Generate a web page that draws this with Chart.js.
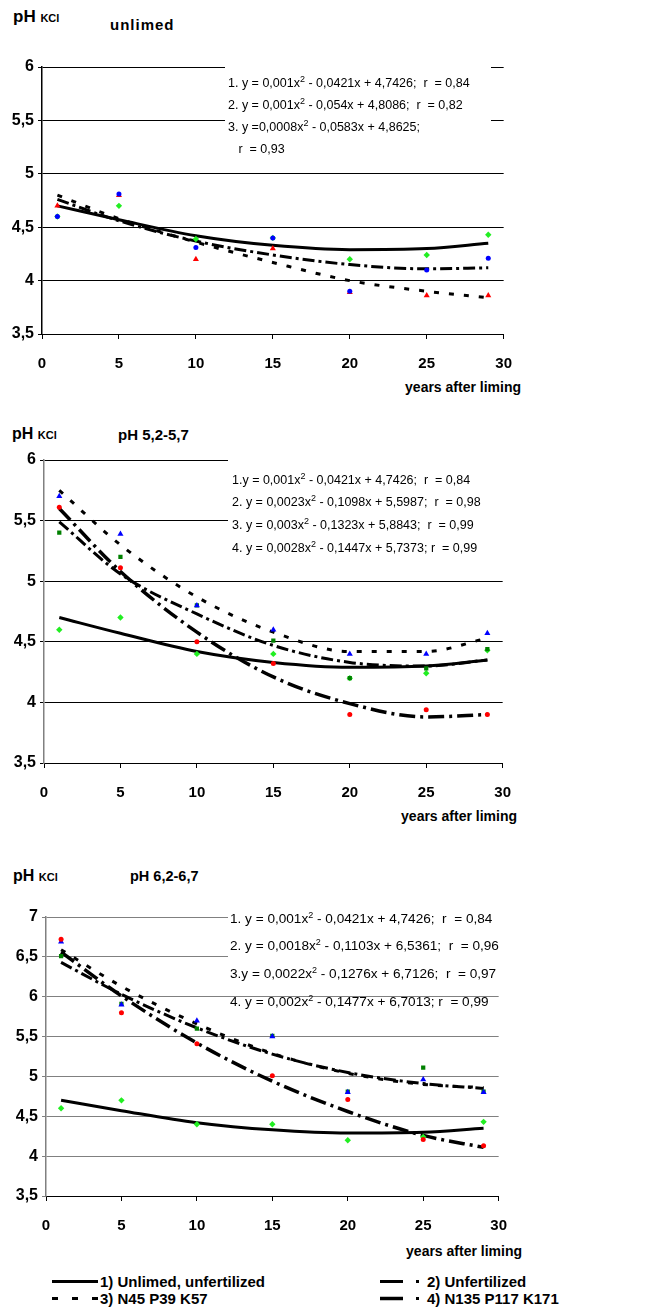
<!DOCTYPE html>
<html>
<head>
<meta charset="utf-8">
<script src="https://cdn.jsdelivr.net/npm/chart.js@4.4.1/dist/chart.umd.min.js"></script>
<style>
body { margin: 0; background: #fff; }
#page { position: relative; width: 653px; height: 1309px; overflow: hidden; font-family: "Liberation Sans", Arial, sans-serif; color: #000; }
canvas { position: absolute; left: 0; }
.t { position: absolute; font-weight: bold; white-space: nowrap; }
.eq { position: absolute; background: #fff; white-space: pre; }
.eq div { white-space: pre; }
.s2 { font-size: 9px; position: relative; top: -5px; }
.leg { position: absolute; font-weight: bold; font-size: 15px; line-height: 17px; white-space: nowrap; }
.leg svg { position: absolute; top: 0; }
</style>
</head>
<body>
<div id="page">
  <!-- panel 1 -->
  <div class="t" style="left:13px;top:7px;font-size:17px">pH <span style="font-size:11px">KCl</span></div>
  <div class="t" style="left:110px;top:16px;font-size:15px;letter-spacing:1px">unlimed</div>
  <canvas id="c1" width="528" height="322" style="top:52px"></canvas>
  <div class="eq" style="left:225px;top:52px;width:263px;height:86px;font-size:12.5px;line-height:21px;padding-left:3px">
<div>1. y = 0,001x<span class="s2">2</span> - 0,0421x + 4,7426;  r  = 0,84</div><div>2. y = 0,001x<span class="s2">2</span> - 0,054x + 4,8086;  r  = 0,82</div><div>3. y =0,0008x<span class="s2">2</span> - 0,0583x + 4,8625;</div><div>   r  = 0,93</div></div>
  <div class="t" style="right:132px;top:379px;font-size:14px">years after liming</div>

  <!-- panel 2 -->
  <div class="t" style="left:12px;top:425px;font-size:16px">pH <span style="font-size:11px">KCl</span></div>
  <div class="t" style="left:118px;top:426px;font-size:15px">pH 5,2-5,7</div>
  <canvas id="c2" width="527" height="358" style="top:445px"></canvas>
  <div class="eq" style="left:228px;top:448px;width:300px;height:87px;font-size:12.5px;line-height:21.7px;padding-left:4px">
<div>1.y = 0,001x<span class="s2">2</span> - 0,0421x + 4,7426;  r  = 0,84</div><div>2. y = 0,0023x<span class="s2">2</span> - 0,1098x + 5,5987;  r  = 0,98</div><div>3. y = 0,003x<span class="s2">2</span> - 0,1323x + 5,8843;  r  = 0,99</div><div>4. y = 0,0028x<span class="s2">2</span> - 0,1447x + 5,7373; r  = 0,99</div></div>
  <div class="t" style="right:136px;top:808px;font-size:14px">years after liming</div>

  <!-- panel 3 -->
  <div class="t" style="left:13px;top:867px;font-size:16px">pH <span style="font-size:11px">KCl</span></div>
  <div class="t" style="left:130px;top:868px;font-size:14.5px">pH 6,2-6,7</div>
  <canvas id="c3" width="523" height="334" style="top:902px"></canvas>
  <div class="eq" style="left:228px;top:880px;width:300px;height:104px;font-size:13.6px;line-height:25.7px;padding-left:2px">
<div>1. y = 0,001x<span class="s2">2</span> - 0,0421x + 4,7426;  r  = 0,84</div><div>2. y = 0,0018x<span class="s2">2</span> - 0,1103x + 6,5361;  r  = 0,96</div><div>3.y = 0,0022x<span class="s2">2</span> - 0,1276x + 6,7126;  r  = 0,97</div><div>4. y = 0,002x<span class="s2">2</span> - 0,1477x + 6,7013; r  = 0,99</div></div>
  <div class="t" style="right:131px;top:1243px;font-size:14px">years after liming</div>

  <!-- legend -->
  <div class="leg" style="left:52px;top:1273px;padding-left:48px">
    <svg width="48" height="17" style="left:0"><line x1="0" y1="8.5" x2="46" y2="8.5" stroke="#000" stroke-width="3"/></svg>1) Unlimed, unfertilized</div>
  <div class="leg" style="left:380px;top:1273px;padding-left:47px">
    <svg width="47" height="17" style="left:0"><line x1="0" y1="8.5" x2="23" y2="8.5" stroke="#000" stroke-width="3"/><rect x="36" y="7" width="3" height="3" fill="#000"/></svg>2) Unfertilized</div>
  <div class="leg" style="left:52px;top:1290px;padding-left:48px">
    <svg width="48" height="17" style="left:0"><line x1="0" y1="8.5" x2="46" y2="8.5" stroke="#000" stroke-width="3" stroke-dasharray="6,14"/></svg>3) N45 P39 K57</div>
  <div class="leg" style="left:380px;top:1290px;padding-left:47px">
    <svg width="47" height="17" style="left:0"><line x1="0" y1="8.5" x2="23" y2="8.5" stroke="#000" stroke-width="3.5"/><rect x="36" y="7" width="3" height="3" fill="#000"/></svg>4) N135 P117 K171</div>
</div>

<script>
// years when pH was measured
const years = [1, 5, 10, 15, 20, 25, 29];

// tick labels
const yLabels1 = ['3,5', '4', '4,5', '5', '5,5', '6'];
const yLabels2 = ['3,5', '4', '4,5', '5', '5,5', '6'];
const yLabels3 = ['3,5', '4', '4,5', '5', '5,5', '6', '6,5', '7'];

// trend 1 (unlimed, unfertilized) - same in all panels
const trend1 = [4.70, 4.57, 4.42, 4.33, 4.29, 4.30, 4.35];

// panel 1 - unlimed
const p1Blue = [4.6, 4.81, 4.31, 4.4, 3.9, 4.1, 4.21];
const p1Red = [4.7, 4.8, 4.2, 4.3, 3.89, 3.86, 3.86];
const p1Green = [4.6, 4.7, 4.39, 4.4, 4.2, 4.24, 4.43];
const p1Trend2 = [4.76, 4.56, 4.37, 4.24, 4.15, 4.11, 4.12];
const p1Trend3 = [4.80, 4.58, 4.36, 4.17, 4.00, 3.90, 3.84];

// panel 2 - pH 5,2-5,7
const p2Blue = [5.7, 5.39, 4.8, 4.6, 4.4, 4.4, 4.57];
const p2Red = [5.61, 5.11, 4.5, 4.32, 3.9, 3.94, 3.9];
const p2DarkGreen = [5.4, 5.2, 4.8, 4.51, 4.2, 4.28, 4.44];
const p2Green = [4.6, 4.7, 4.4, 4.4, 4.2, 4.24, 4.43];
const p2Trend2 = [5.49, 5.06, 4.73, 4.47, 4.33, 4.30, 4.35];
const p2Trend3 = [5.75, 5.30, 4.87, 4.58, 4.42, 4.42, 4.53];
const p2Trend4 = [5.60, 5.08, 4.58, 4.21, 3.99, 3.88, 3.90];

// panel 3 - pH 6,2-6,7
const p3Red = [6.72, 5.8, 5.41, 5.01, 4.71, 4.21, 4.13];
const p3Blue = [6.69, 5.9, 5.7, 5.5, 4.8, 4.96, 4.8];
const p3DarkGreen = [6.51, 5.91, 5.6, 5.51, 4.81, 5.11, 4.81];
const p3Green = [4.6, 4.7, 4.4, 4.4, 4.2, 4.24, 4.43];
const p3Trend2 = [6.43, 6.03, 5.61, 5.28, 5.05, 4.91, 4.85];
const p3Trend3 = [6.59, 6.13, 5.66, 5.29, 5.04, 4.90, 4.86];
const p3Trend4 = [6.56, 6.01, 5.42, 4.94, 4.56, 4.26, 4.11];

const FONT = '"Liberation Sans", Arial, sans-serif';

function pts(arr) {
    return years.map((x, i) => ({ x: x, y: arr[i] }));
}

function markers(arr, color, shape, r) {
    return {
        type: 'scatter',
        data: pts(arr),
        pointStyle: shape,
        pointRadius: r,
        backgroundColor: color,
        borderColor: color,
        borderWidth: 0,
        order: 0
    };
}

function trend(arr, dash, width) {
    return {
        type: 'line',
        data: pts(arr),
        borderColor: '#000',
        borderWidth: width || 3,
        borderDash: dash,
        borderCapStyle: 'butt',
        pointRadius: 0,
        fill: false,
        cubicInterpolationMode: 'monotone',
        order: 1
    };
}

// dash patterns of the trend lines
const dash2 = [12, 4, 3, 4];
const dash3 = [5, 10];
const dash4 = [16, 5, 3, 5];

function makeChart(id, datasets, yMin, yMax, yLabels, area, gridColor, yAxisColor) {
    new Chart(document.getElementById(id), {
        data: { datasets: datasets },
        options: {
            responsive: false,
            animation: false,
            events: [],
            layout: { padding: { top: 15, right: area.right, left: 0, bottom: 0 } },
            plugins: { legend: { display: false }, tooltip: { enabled: false } },
            scales: {
                x: {
                    type: 'linear',
                    min: 0, max: 30,
                    ticks: { stepSize: 5, color: '#000', font: { family: FONT, size: 15, weight: 'bold' }, padding: 16, maxRotation: 0 },
                    grid: { drawOnChartArea: false, drawTicks: true, tickLength: 5, color: '#000' },
                    border: { display: true, color: '#000', width: 1 },
                    afterFit: s => { s.height = 40; }
                },
                y: {
                    min: yMin, max: yMax,
                    ticks: {
                        stepSize: 0.5, color: '#000', padding: 4,
                        font: { family: FONT, size: 16, weight: 'bold' },
                        callback: (v, i) => yLabels[i]
                    },
                    grid: { color: gridColor, tickLength: 4, lineWidth: 1 },
                    border: { display: true, color: yAxisColor, width: 1.5 },
                    afterFit: s => { s.width = area.left; }
                }
            }
        }
    });
}

makeChart('c1', [
    markers(p1Blue, '#0000ff', 'circle', 2.5),
    markers(p1Red, '#ff0000', 'triangle', 3.5),
    markers(p1Green, '#22ee22', 'rectRot', 3.2),
    trend(trend1, []),
    trend(p1Trend2, dash2),
    trend(p1Trend3, dash3)
], 3.5, 6, yLabels1, { left: 42, right: 20 }, '#000', '#000');

makeChart('c2', [
    markers(p2Blue, '#0000ff', 'triangle', 3.5),
    markers(p2Red, '#ff0000', 'circle', 2.5),
    markers(p2DarkGreen, '#008000', 'rect', 3),
    markers(p2Green, '#22ee22', 'rectRot', 3.2),
    trend(trend1, []),
    trend(p2Trend2, dash2),
    trend(p2Trend3, dash3),
    trend(p2Trend4, dash4, 3.5)
], 3.5, 6, yLabels2, { left: 44, right: 20 }, '#000', '#808080');

makeChart('c3', [
    markers(p3Red, '#ff0000', 'circle', 2.5),
    markers(p3Blue, '#0000ff', 'triangle', 3.5),
    markers(p3DarkGreen, '#008000', 'rect', 3),
    markers(p3Green, '#22ee22', 'rectRot', 3.2),
    trend(trend1, []),
    trend(p3Trend2, dash2),
    trend(p3Trend3, dash3),
    trend(p3Trend4, dash4, 3.5)
], 3.5, 7, yLabels3, { left: 46, right: 20 }, '#808080', '#808080');
</script>
</body>
</html>
